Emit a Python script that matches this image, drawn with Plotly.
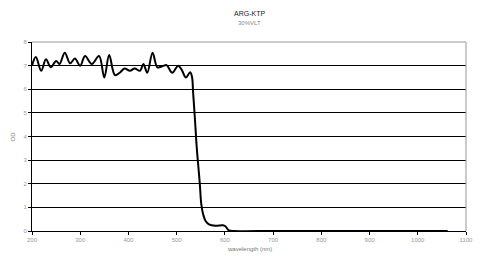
import plotly.graph_objects as go

wavelength = [200, 208, 219, 229, 239, 250, 257, 268, 279, 289, 300, 310, 324, 339, 350, 360, 372, 382,
              392, 403, 413, 424, 431, 439, 450, 460, 471, 479, 491, 503, 511, 519, 528, 532,
              534, 538, 541, 544, 548, 551, 555, 560, 567, 580, 596, 601, 608, 620, 700, 800, 900, 1000, 1062]
od = [7.0, 7.36, 6.78, 7.27, 6.93, 7.2, 7.07, 7.55, 7.1, 7.3, 6.99, 7.41, 7.07, 7.41, 6.5, 7.45, 6.6, 6.7,
      6.88, 6.78, 6.88, 6.78, 7.07, 6.7, 7.55, 6.93, 6.98, 7.02, 6.7, 7.0, 6.8, 6.5, 6.72, 6.5,
      5.9, 4.7, 3.71, 2.95, 2.0, 1.15, 0.7, 0.42, 0.28, 0.22, 0.24, 0.2, 0.03, 0.0, 0.0, 0.0, 0.0, 0.0, 0.0]

x_ticks = [200, 300, 400, 500, 600, 700, 800, 900, 1000, 1100]
y_ticks = [0, 1, 2, 3, 4, 5, 6, 7, 8]

font = "Liberation Sans, Arial, sans-serif"

fig = go.Figure()
fig.add_trace(go.Scatter(x=wavelength, y=od, mode="lines",
                         line=dict(color="black", width=2, shape="spline", smoothing=1.0),
                         showlegend=False, hoverinfo="skip"))

fig.update_layout(
    width=484, height=261,
    margin=dict(l=32, r=18, t=42, b=30),
    paper_bgcolor="white", plot_bgcolor="white",
    xaxis=dict(range=[200, 1100], tickvals=x_ticks, ticktext=[str(v) for v in x_ticks],
               showgrid=False, showline=True, linecolor="black", linewidth=1,
               ticks="outside", ticklen=3, tickcolor="black",
               tickfont=dict(family=font, size=6, color="#999"),
               zeroline=False),
    yaxis=dict(range=[0, 8], tickvals=y_ticks,
               showgrid=True, gridcolor="black", gridwidth=1,
               showline=True, linecolor="black", linewidth=1,
               ticks="outside", ticklen=3, tickcolor="black",
               tickfont=dict(family=font, size=6, color="#999"),
               zeroline=False),
    annotations=[
        dict(text="ARG-KTP", xref="paper", yref="paper", x=0.5, y=1, yshift=29, xanchor="center",
             yanchor="middle", showarrow=False, font=dict(family=font, size=7, color="#222")),
        dict(text="30%VLT", xref="paper", yref="paper", x=0.5, y=1, yshift=19, xanchor="center",
             yanchor="middle", showarrow=False, font=dict(family=font, size=6, color="#888")),
        dict(text="wavelength (nm)", xref="paper", yref="paper", x=0.5, y=0, yshift=-18, xanchor="center",
             yanchor="middle", showarrow=False, font=dict(family=font, size=6, color="#777")),
        dict(text="OD", xref="paper", yref="paper", x=0, y=0.5, xshift=-20, xanchor="center",
             yanchor="middle", showarrow=False, textangle=-90, font=dict(family=font, size=6, color="#777")),
    ],
)
# gray plot-area border on top and right
fig.add_shape(type="line", xref="paper", yref="paper", x0=0, x1=1, y0=1, y1=1,
              line=dict(color="#999", width=1), layer="above")
fig.add_shape(type="line", xref="paper", yref="paper", x0=1, x1=1, y0=0, y1=1,
              line=dict(color="#999", width=1), layer="above")

fig.write_html("out.html")
